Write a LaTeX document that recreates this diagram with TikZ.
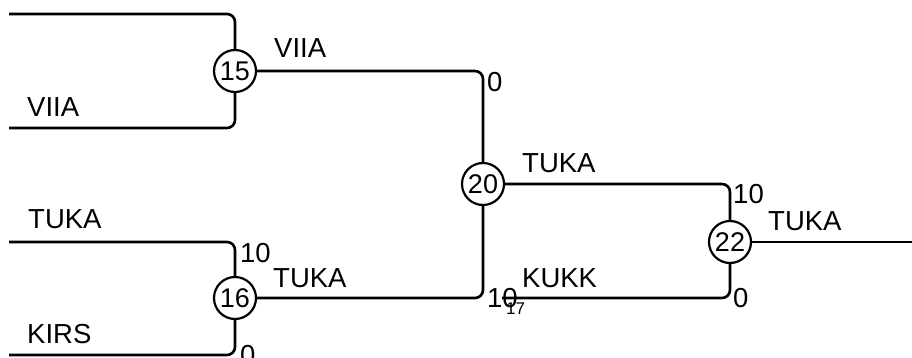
\documentclass[tikz,border=0pt]{standalone}
\usepackage{fontspec}
\setmainfont{Liberation Sans}
\begin{document}
\begin{tikzpicture}[x=1pt,y=-1pt,
  wire/.style={line width=2.6pt, rounded corners=8pt},
  junc/.style={circle, draw, line width=2.2pt, minimum size=42pt, inner sep=0pt, font=\fontsize{27}{27}\selectfont, fill=white},
  lbl/.style={anchor=base west, inner sep=0pt, font=\fontsize{27.5}{27.5}\selectfont},
  sml/.style={anchor=base west, inner sep=0pt, font=\fontsize{17}{17}\selectfont}]
\useasboundingbox (0,0) rectangle (912,358);
% nodes
\node[junc] (n15) at (235,71) {15};
\node[junc] (n16) at (235,298) {16};
\node[junc] (n20) at (483,184) {20};
\node[junc] (n22) at (730,242) {22};
% free ends
\coordinate (a1) at (9,14);
\coordinate (a2) at (9,128);
\coordinate (b1) at (9,242);
\coordinate (b2) at (9,355);
\coordinate (c1) at (502,298);
\coordinate (out) at (912,242);
% wires
\draw[wire] (a1) -| (n15.north);
\draw[wire] (a2) -| (n15.south);
\draw[wire] (b1) -| (n16.north);
\draw[wire] (b2) -| (n16.south);
\draw[wire] (n15.east) -| (n20.north);
\draw[wire] (n16.east) -| (n20.south);
\draw[wire] (n20.east) -| (n22.north);
\draw[wire] (c1) -| (n22.south);
\draw[wire] (n22.east) -- (out);
% labels
\node[lbl] (l1) at (27,117) {VIIA};
\node[lbl] (l2) at (274,58) {VIIA};
\node[lbl] (l3) at (487,92) {0};
\node[lbl] (l4) at (522,173) {TUKA};
\node[lbl] (l5) at (733,203) {10};
\node[lbl] (l6) at (768,230) {TUKA};
\node[lbl] (l7) at (733,307) {0};
\node[lbl] (l8) at (28,228) {TUKA};
\node[lbl] (l9) at (240,262) {10};
\node[lbl] (l10) at (273,287) {TUKA};
\node[lbl] (l11) at (27,343) {KIRS};
\node[lbl] (l12) at (240,364) {0};
\node[lbl] (l13) at (487,307) {10};
\node[sml] (l14) at (506,314) {17};
\node[lbl] (l15) at (522,287) {KUKK};
\end{tikzpicture}
\end{document}
